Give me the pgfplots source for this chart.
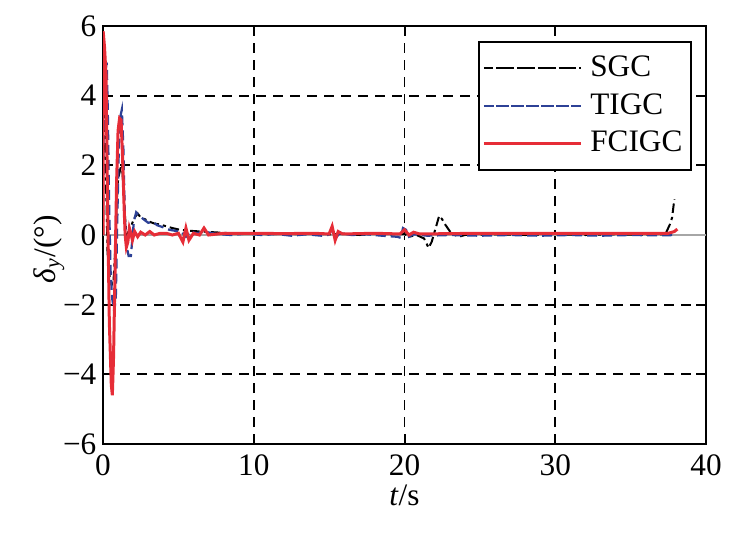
\documentclass[border=0pt,12pt]{standalone}
\usepackage{fontspec}
\setmainfont{Liberation Serif}
\usepackage{pgfplots}
\pgfplotsset{compat=1.18}
\definecolor{cred}{RGB}{230,45,55}
\definecolor{cblue}{RGB}{45,65,150}
\begin{document}
\begin{tikzpicture}
\useasboundingbox (0,0) rectangle (296.4pt,214.8pt);
\begin{axis}[
  at={(41.2pt,37.2pt)}, anchor=south west,
  scale only axis, width=241.2pt, height=167.2pt,
  xmin=0, xmax=40, ymin=-6, ymax=6,
  xtick={0,10,20,30,40},
  ytick={-6,-4,-2,0,2,4,6},
  yticklabels={−6,−4,−2,0,2,4,6},
  /pgf/number format/assume math mode=true,
  tick label style={font=\fontsize{12.5}{14}\selectfont},
  yticklabel style={xshift=1.5pt},
  tick align=inside, major tick length=4pt,
  axis line style={line width=0.8pt},
  every tick/.style={black, line width=0.8pt},
  grid=major,
  major grid style={black, line width=0.7pt, dash pattern=on 4pt off 2.8pt},
  xlabel={\textit{t}/s},
  ylabel={\textit{δ}\textsubscript{\textit{y}}/(°)},
  label style={font=\fontsize{12.5}{14}\selectfont},
  xlabel style={at={(axis description cs:0.5,-0.122)}, anchor=center},
  ylabel style={at={(axis description cs:-0.09,0.466)}, anchor=center, rotate=0},
  legend cell align=left,
  legend style={at={(rel axis cs:0.977,0.964)}, anchor=north east,
    draw=black, line width=0.8pt, row sep=1pt, column sep=1pt,
    inner xsep=1.5pt, inner ysep=3.5pt,
    font=\fontsize{12.5}{15}\selectfont},
  legend image code/.code={\path (0pt,0pt) -- (39pt,0pt);\draw[#1] (5pt,0pt) -- (39pt,0pt);},
]
\addplot[gray!70, line width=0.6pt, forget plot] coordinates {(0,0) (40,0)};
% SGC
\addplot[black, line width=0.8pt, dash pattern=on 3.8pt off 1.6pt on 1.3pt off 1.6pt] coordinates {
(0,0) (0.03,4.0) (0.1,3.5) (0.2,1.5) (0.3,-0.5) (0.45,-1.2) (0.6,-1.4) (0.7,-1.3)
(0.8,-0.5) (0.9,0.8) (1.0,1.6) (1.15,1.9) (1.25,2.05) (1.35,1.4) (1.45,0.6) (1.55,0.0)
(1.7,0.1) (1.9,0.3) (2.1,0.5) (2.3,0.62) (2.5,0.5) (2.8,0.45) (3.1,0.38) (3.4,0.33)
(3.8,0.3) (4.2,0.25) (4.6,0.2) (5.1,0.15) (5.8,0.12) (6.5,0.1) (7.3,0.08) (8.5,0.05)
(10,0.05) (11,0.02) (12,0.05) (13,0.02) (14,0.04) (15,0.02) (16,0.04) (17,0.0) (18,0.04)
(19,0.02) (20,0.03) (20.3,-0.05) (20.8,0.0) (21.3,-0.1) (21.6,-0.37) (21.8,-0.2)
(22.0,0.1) (22.3,0.55) (22.5,0.45) (22.7,0.3) (23.1,0.05) (23.6,-0.05) (24,0.0)
(26,0.02) (28,0.0) (30,0.02) (32,0.0) (34,0.02) (36,0.0) (37.3,0.02) (37.6,0.3)
(37.75,0.5) (37.9,1.03)};
\addlegendentry{SGC}
% TIGC
\addplot[cblue, line width=0.9pt, dash pattern=on 4pt off 2pt] coordinates {
(0,0) (0.05,3.5) (0.15,4.7) (0.25,4.95) (0.32,3.5) (0.4,1.0) (0.5,-1.0) (0.6,-1.8)
(0.75,-2.2) (0.85,-1.8) (0.95,0.5) (1.05,2.5) (1.15,3.4) (1.25,3.6) (1.35,2.5)
(1.45,0.5) (1.55,-0.3) (1.7,-0.6) (1.85,-0.6) (1.95,-0.1) (2.05,0.4) (2.2,0.65)
(2.4,0.55) (2.7,0.45) (3.0,0.35) (3.3,0.38) (3.6,0.28) (4.0,0.22) (4.4,0.15)
(4.8,0.12) (5.2,0.1) (5.5,-0.05) (5.8,0.1) (6.2,0.05) (6.7,0.1) (7.5,0.03) (8.5,0.0)
(9.5,0.04) (10.5,0.0) (11.5,0.03) (12.5,-0.02) (13.5,0.02) (14.5,-0.02) (14.9,0.0)
(15.2,0.15) (15.4,-0.1) (15.7,0.05) (16.5,0.0) (17.5,0.02) (18.5,-0.02) (19.5,-0.05)
(19.75,-0.08) (19.9,0.2) (20.1,0.15) (20.3,-0.05) (20.6,0.02) (21.5,-0.02) (23,0.0)
(25,-0.02) (27,0.0) (29,-0.02) (31,0.0) (33,-0.02) (35,0.0) (37,-0.01) (38,0.0)};
\addlegendentry{TIGC}
% FCIGC
\addplot[cred, line width=1.2pt] coordinates {
(0,0) (0.01,5.85) (0.1,5.4) (0.2,4.6) (0.3,1.0) (0.42,-2.5) (0.55,-4.3) (0.62,-4.6)
(0.7,-3.5) (0.8,-1.0) (0.9,1.5) (1.0,3.0) (1.1,3.35) (1.2,3.3) (1.3,2.2) (1.4,0.8)
(1.47,0.0) (1.55,-0.35) (1.65,-0.2) (1.75,0.2) (1.85,0.05) (1.95,-0.15) (2.1,0.1)
(2.3,-0.05) (2.5,0.08) (2.8,0.0) (3.1,0.1) (3.4,0.0) (3.8,0.05) (4.2,0.05) (4.6,0.0)
(5.0,0.05) (5.3,-0.2) (5.5,0.2) (5.7,-0.15) (6.0,0.05) (6.4,0.0) (6.7,0.2) (7.0,0.0)
(8,0.05) (10,0.05) (12,0.04) (14,0.05) (15.0,0.03) (15.2,0.25) (15.4,-0.15)
(15.6,0.1) (15.9,0.03) (18,0.05) (19.7,0.03) (20.0,0.15) (20.3,0.0) (20.6,0.08)
(21,0.03) (25,0.05) (30,0.05) (35,0.05) (37.5,0.05) (37.9,0.1) (38.1,0.17)};
\addlegendentry{FCIGC}
\end{axis}
\end{tikzpicture}
\end{document}
